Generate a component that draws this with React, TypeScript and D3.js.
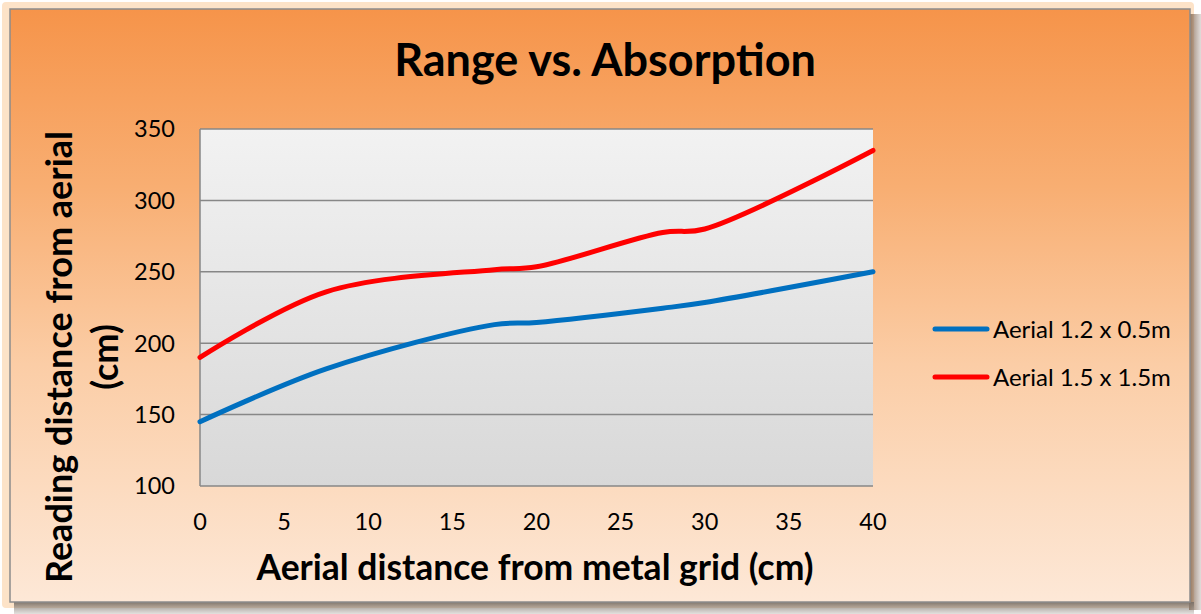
import React from "react";
import * as d3 from "d3";

const xValues = [0, 7.5, 17.5, 20, 27.5, 30, 40];
const seriesSmall = [145, 182, 213, 214.5, 224.5, 228.5, 250];
const seriesLarge = [190, 236, 251.5, 253.5, 277.5, 280, 335];
const seriesNames = ["Aerial 1.2 x 0.5m", "Aerial 1.5 x 1.5m"];
const seriesColors = ["#0070C0", "#FF0000"];
const xTicks = [0, 5, 10, 15, 20, 25, 30, 35, 40];
const yTicks = [100, 150, 200, 250, 300, 350];

const W = 1201;
const H = 614;
const FONT = "Lato, 'Open Sans', sans-serif";

export default function App() {
  const plot = { left: 200, right: 873, top: 129, bottom: 486 };
  const x = d3.scaleLinear().domain([0, 40]).range([plot.left, plot.right]);
  const y = d3.scaleLinear().domain([100, 350]).range([plot.bottom, plot.top]);
  const line = d3
    .line<[number, number]>()
    .x((d) => x(d[0]))
    .y((d) => y(d[1]))
    .curve(d3.curveCatmullRom.alpha(0.5));
  const series = [seriesSmall, seriesLarge];

  return (
    <svg
      width={W}
      height={H}
      style={{ position: "absolute", left: 0, top: 0, display: "block" }}
    >
      <defs>
        <linearGradient id="bg" x1="0" y1="0" x2="0" y2="1">
          <stop offset="0" stopColor="#F6944A" />
          <stop offset="0.3" stopColor="#F8AE72" />
          <stop offset="0.6" stopColor="#FBCDA6" />
          <stop offset="1" stopColor="#FDE8D7" />
        </linearGradient>
        <linearGradient id="plotbg" x1="0" y1="0" x2="0" y2="1">
          <stop offset="0" stopColor="#F2F2F2" />
          <stop offset="1" stopColor="#D8D8D8" />
        </linearGradient>
        <linearGradient id="shR" x1="0" y1="0" x2="1" y2="0">
          <stop offset="0" stopColor="#8A6A50" stopOpacity="0.95" />
          <stop offset="1" stopColor="#9A8A80" stopOpacity="0.3" />
        </linearGradient>
        <linearGradient id="shB" x1="0" y1="0" x2="0" y2="1">
          <stop offset="0" stopColor="#7A7068" stopOpacity="0.95" />
          <stop offset="1" stopColor="#A09890" stopOpacity="0.3" />
        </linearGradient>
      </defs>
      <rect x={0} y={0} width={W} height={H} fill="#FFFFFF" />
      <rect x={2} y={2} width={1192} height={606} fill="#FDE3C8" rx={4} />
      <rect x={1189} y={14} width={12} height={596} fill="url(#shR)" />
      <rect x={14} y={602} width={1180} height={12} fill="url(#shB)" />
      <rect
        x={10}
        y={9}
        width={1180}
        height={593}
        fill="url(#bg)"
        stroke="#8C8C8C"
        strokeWidth={1.5}
      />
      <rect
        x={plot.left}
        y={plot.top}
        width={plot.right - plot.left}
        height={plot.bottom - plot.top}
        fill="url(#plotbg)"
      />
      {yTicks.map((t) => (
        <line
          key={"g" + t}
          x1={plot.left}
          x2={plot.right}
          y1={y(t)}
          y2={y(t)}
          stroke="#878787"
          strokeWidth={1.5}
        />
      ))}
      <line
        x1={plot.left}
        x2={plot.left}
        y1={plot.top}
        y2={plot.bottom}
        stroke="#878787"
        strokeWidth={1.5}
      />
      {yTicks.map((t) => (
        <text
          key={"yt" + t}
          x={175}
          y={y(t)}
          dy="0.36em"
          textAnchor="end"
          fontFamily={FONT}
          fontSize={23.5}
          fill="#000"
        >
          {t}
        </text>
      ))}
      {xTicks.map((t) => (
        <text
          key={"xt" + t}
          x={x(t)}
          y={530}
          textAnchor="middle"
          fontFamily={FONT}
          fontSize={23.5}
          fill="#000"
        >
          {t}
        </text>
      ))}
      {series.map((s, i) => (
        <path
          key={"s" + i}
          d={line(xValues.map((xv, j) => [xv, s[j]] as [number, number])) || ""}
          fill="none"
          stroke={seriesColors[i]}
          strokeWidth={5}
          strokeLinecap="round"
          strokeLinejoin="round"
        />
      ))}
      <text
        x={605}
        y={76}
        textAnchor="middle"
        fontFamily={FONT}
        fontWeight="bold"
        fontSize={45}
        fill="#000"
      >
        Range vs. Absorption
      </text>
      <text
        x={535}
        y={580}
        textAnchor="middle"
        fontFamily={FONT}
        fontWeight="bold"
        fontSize={35.5}
        fill="#000"
      >
        Aerial distance from metal grid (cm)
      </text>
      <g transform="translate(72,357) rotate(-90)">
        <text
          x={0}
          y={0}
          textAnchor="middle"
          fontFamily={FONT}
          fontWeight="bold"
          fontSize={36}
          fill="#000"
        >
          Reading distance from aerial
        </text>
        <text
          x={0}
          y={46}
          textAnchor="middle"
          fontFamily={FONT}
          fontWeight="bold"
          fontSize={36}
          fill="#000"
        >
          (cm)
        </text>
      </g>
      {seriesNames.map((n, i) => (
        <g key={"l" + i} transform={`translate(0,${329 + i * 48})`}>
          <line
            x1={935}
            x2={987}
            y1={0}
            y2={0}
            stroke={seriesColors[i]}
            strokeWidth={5}
            strokeLinecap="round"
          />
          <text
            x={993}
            y={0}
            dy="0.36em"
            fontFamily={FONT}
            fontSize={24}
            fill="#000"
          >
            {n}
          </text>
        </g>
      ))}
    </svg>
  );
}
